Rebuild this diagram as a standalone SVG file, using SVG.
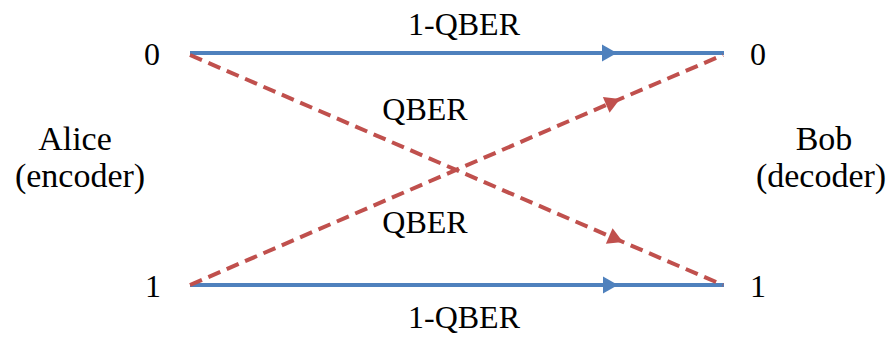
<svg xmlns="http://www.w3.org/2000/svg" width="888" height="338" viewBox="0 0 888 338">
<style>
.b{fill:none;stroke:#4F81BD;stroke-width:4}
.r{fill:none;stroke:#C0504D;stroke-width:4;stroke-dasharray:13 7}
</style>
<defs>
<marker id="ab" markerUnits="userSpaceOnUse" markerWidth="18" markerHeight="18" refX="16" refY="9" orient="auto"><path d="M1,0.5 L16,9 L1,17.5 Z" fill="#4F81BD"/></marker>
<marker id="ar" markerUnits="userSpaceOnUse" markerWidth="18" markerHeight="18" refX="16" refY="9" orient="auto"><path d="M1,0.5 L16,9 L1,17.5 Z" fill="#C0504D"/></marker>
</defs>
<g id="connectors">
<path class="b" d="M190 53 L617 53 L724 53" marker-mid="url(#ab)"/>
<path class="b" d="M190 285 L618 285 L724 285" marker-mid="url(#ab)"/>
<path class="r" d="M190 55 L623 242 L723 285" marker-mid="url(#ar)"/>
<path class="r" d="M190 285 L620 99 L723 55" marker-mid="url(#ar)"/>
</g>
<g font-family="Liberation Serif, DejaVu Serif, serif" fill="#000" text-anchor="middle">
<g id="alice" font-size="34"><text x="75" y="150">Alice</text><text x="80" y="187">(encoder)</text></g>
<g id="bob" font-size="34"><text x="824" y="150">Bob</text><text x="821" y="187">(decoder)</text></g>
<g font-size="32">
<g id="a0"><text x="152" y="65">0</text></g>
<g id="a1"><text x="153" y="297">1</text></g>
<g id="b0"><text x="758" y="65">0</text></g>
<g id="b1"><text x="758" y="297">1</text></g>
<g id="labels">
<text x="464" y="35">1-QBER</text>
<text x="425" y="120">QBER</text>
<text x="425" y="233">QBER</text>
<text x="464" y="328">1-QBER</text>
</g>
</g>
</g>
</svg>
